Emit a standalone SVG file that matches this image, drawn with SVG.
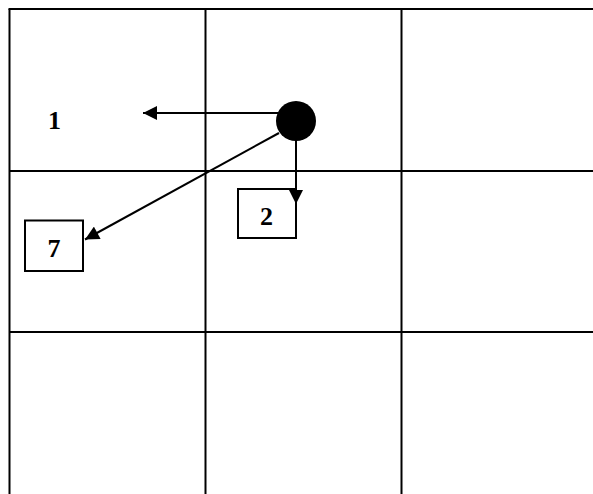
<svg xmlns="http://www.w3.org/2000/svg" width="593" height="494" viewBox="0 0 593 494">
<style>
.grid{stroke:#000;stroke-width:2;fill:none}
.conn{stroke:#000;stroke-width:2;fill:none}
.box{fill:#fff;stroke:#000;stroke-width:2}
.lbl{font-family:"Liberation Serif",serif;font-weight:bold;font-size:26px;fill:#000;text-anchor:middle}
</style>
<defs>
<marker id="ah" viewBox="0 0 10 10" refX="10" refY="5" markerWidth="15" markerHeight="14" markerUnits="userSpaceOnUse" orient="auto">
<path d="M0,0 L10,5 L0,10 z" fill="#000"/>
</marker>
</defs>
<g id="grid">
<line class="grid" x1="8.5" y1="9" x2="593" y2="9"/>
<line class="grid" x1="9.5" y1="9" x2="9.5" y2="494"/>
<line class="grid" x1="205.5" y1="9" x2="205.5" y2="494"/>
<line class="grid" x1="401.5" y1="9" x2="401.5" y2="494"/>
<line class="grid" x1="9.5" y1="171" x2="593" y2="171"/>
<line class="grid" x1="9.5" y1="332" x2="593" y2="332"/>
</g>
<g id="node-2">
<rect class="box" x="238" y="189" width="58" height="49"/>
<text class="lbl" x="266.5" y="225">2</text>
</g>
<g id="node-7">
<rect class="box" x="25" y="220.5" width="58" height="50.5"/>
<text class="lbl" x="54" y="256.5">7</text>
</g>
<g id="node-1">
<text class="lbl" x="54.5" y="128.5">1</text>
</g>
<g id="connectors">
<line class="conn" x1="280" y1="113" x2="143" y2="113" marker-end="url(#ah)"/>
<line class="conn" x1="296" y1="135" x2="296" y2="204" marker-end="url(#ah)"/>
<line class="conn" x1="279" y1="133" x2="85" y2="239.5" marker-end="url(#ah)"/>
</g>
<g id="node-dot">
<circle cx="296" cy="121" r="20" fill="#000"/>
</g>
</svg>
